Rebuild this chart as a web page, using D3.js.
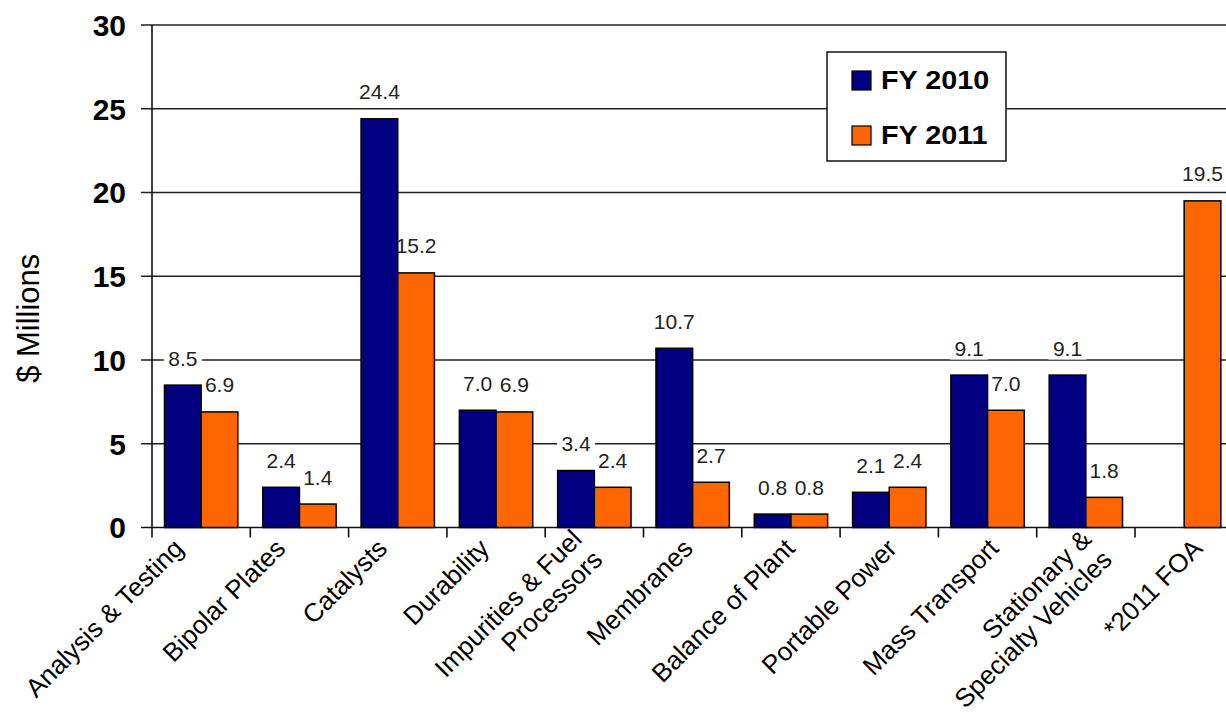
<!DOCTYPE html>
<html>
<head>
<meta charset="utf-8">
<script src="https://cdn.jsdelivr.net/npm/d3@7"></script>
<style>
  html, body { margin: 0; padding: 0; background: #fff; }
  svg { display: block; }
  text { font-family: "Liberation Sans", Arial, sans-serif; }
</style>
</head>
<body>
<svg id="chart" width="1226" height="713"></svg>
<script>
const categories = ["Analysis & Testing", "Bipolar Plates", "Catalysts", "Durability",
  "Impurities & Fuel\nProcessors", "Membranes", "Balance of Plant", "Portable Power",
  "Mass Transport", "Stationary &\nSpecialty Vehicles", "*2011 FOA"];
const seriesNames = ["FY 2010", "FY 2011"];
const fy2010 = [8.5, 2.4, 24.4, 7.0, 3.4, 10.7, 0.8, 2.1, 9.1, 9.1, null];
const fy2011 = [6.9, 1.4, 15.2, 6.9, 2.4, 2.7, 0.8, 2.4, 7.0, 1.8, 19.5];
const yTicks = [0, 5, 10, 15, 20, 25, 30];
const colors = ["#000080", "#FF6600"];

(function () {
const svg = d3.select("#chart");
const W = 1226;
const mLeft = 152, mTop = 25, mBottom = 527.5;
const step = 98.3;
const mRight = mLeft + step * categories.length;

const x0 = d3.scaleBand().domain(categories).range([mLeft, mRight]).paddingInner(0).paddingOuter(0);
const x1 = d3.scaleBand().domain(seriesNames).range([0, x0.bandwidth()]).paddingInner(0).paddingOuter(0.34);
const y = d3.scaleLinear().domain([0, 30]).range([mBottom, mTop]);
// label anchor scale (Excel spreads rotated labels slightly wider than the bands)
const xl = d3.scaleLinear().domain([0, categories.length - 1]).range([185, 1204]);

const data = categories.map((c, i) => ({cat: c, vals: [fy2010[i], fy2011[i]]}));
const pts = [];
data.forEach(d => d.vals.forEach((v, k) => { if (v != null) pts.push({cat: d.cat, v, k}); }));
const cx = e => x0(e.cat) + x1(seriesNames[e.k]) + x1.bandwidth() / 2;

// gridlines
svg.append("g").selectAll("line").data(yTicks.filter(t => t > 0)).join("line")
  .attr("x1", mLeft - 11).attr("x2", W + 10)
  .attr("y1", d => y(d)).attr("y2", d => y(d))
  .attr("stroke", "#222").attr("stroke-width", 1.4);

// label backgrounds (interrupt gridlines only)
svg.append("g").selectAll("rect").data(pts).join("rect")
  .attr("x", e => cx(e) - 19).attr("y", e => y(e.v) - 19.5 - 17)
  .attr("width", 38).attr("height", 21).attr("fill", "#fff");

// baseline
svg.append("line").attr("x1", mLeft - 11).attr("x2", W + 10)
  .attr("y1", y(0)).attr("y2", y(0)).attr("stroke", "#111").attr("stroke-width", 1.6);

// y axis
svg.append("line").attr("x1", mLeft).attr("x2", mLeft).attr("y1", mTop).attr("y2", mBottom + 10)
  .attr("stroke", "#111").attr("stroke-width", 1.6);

// x ticks at band boundaries
svg.append("g").selectAll("line").data(categories.slice(1)).join("line")
  .attr("x1", d => x0(d)).attr("x2", d => x0(d))
  .attr("y1", mBottom).attr("y2", mBottom + 10)
  .attr("stroke", "#111").attr("stroke-width", 1.6);

// y tick labels
svg.append("g").selectAll("text").data(yTicks).join("text")
  .attr("x", 126).attr("y", d => y(d)).attr("dy", "0.36em")
  .attr("text-anchor", "end").attr("font-size", 30).attr("font-weight", "bold")
  .attr("fill", "#000").text(d => d);

// y axis title
svg.append("text")
  .attr("transform", `translate(39, ${(mTop + mBottom) / 2 + 42}) rotate(-90)`)
  .attr("text-anchor", "middle").attr("font-size", 31).attr("fill", "#000")
  .text("$ Millions");

// bars
svg.append("g").selectAll("rect").data(pts).join("rect")
  .attr("x", e => x0(e.cat) + x1(seriesNames[e.k]))
  .attr("width", x1.bandwidth())
  .attr("y", e => y(e.v))
  .attr("height", e => y(0) - y(e.v))
  .attr("fill", e => colors[e.k])
  .attr("stroke", "#000").attr("stroke-width", 1.5);

// value labels
svg.append("g").selectAll("text").data(pts).join("text")
  .attr("x", cx).attr("y", e => y(e.v) - 19.5)
  .attr("text-anchor", "middle").attr("font-size", 21).attr("fill", "#222")
  .text(e => e.v.toFixed(1));

// category labels (rotated)
const lh = 29;
svg.append("g").selectAll("text").data(categories).join("text")
  .attr("transform", (d, i) => `translate(${xl(i)}, 550) rotate(-45)`)
  .attr("text-anchor", "end").attr("font-size", 26).attr("fill", "#000")
  .each(function (d) {
    const lines = d.split("\n");
    d3.select(this).selectAll("tspan").data(lines).join("tspan")
      .attr("x", 0)
      .attr("dy", (t, j) => j === 0 ? -(lines.length - 1) * lh * 0.45 : lh)
      .text(t => t);
  });

// legend
const lg = svg.append("g");
lg.append("rect").attr("x", 827).attr("y", 52).attr("width", 179).attr("height", 109)
  .attr("fill", "#fff").attr("stroke", "#111").attr("stroke-width", 1.5);
seriesNames.forEach((s, k) => {
  const yy = 71 + k * 55;
  lg.append("rect").attr("x", 852).attr("y", yy).attr("width", 19).attr("height", 19)
    .attr("fill", colors[k]).attr("stroke", "#000").attr("stroke-width", 1.2);
  lg.append("text").attr("transform", `translate(881, ${yy + 18}) scale(1.15,1)`)
    .attr("font-size", 25).attr("font-weight", "bold").attr("fill", "#000").text(s);
});
})();
</script>
</body>
</html>
